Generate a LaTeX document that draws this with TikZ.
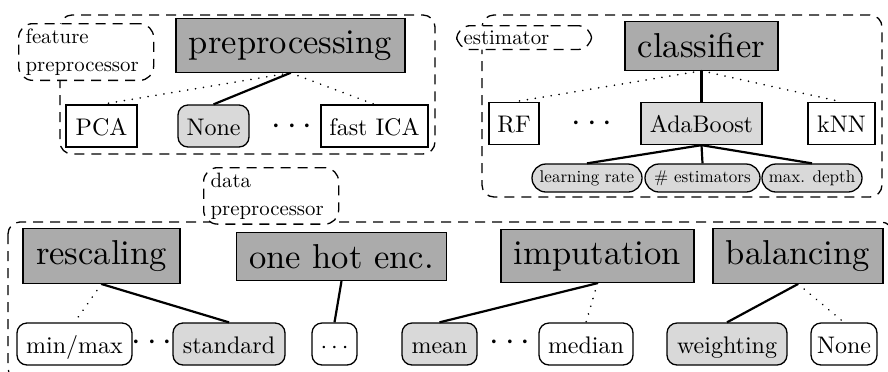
\documentclass[tikz,border=0pt]{standalone}
\usepackage{fontspec}
\setmainfont{lmroman10-regular}[Extension=.otf]
\definecolor{darkfill}{gray}{0.67}
\definecolor{lightfill}{gray}{0.85}
\begin{document}
\begin{tikzpicture}[x=0.5pt,y=-0.5pt,
  big/.style={draw, fill=darkfill, line width=0.65pt, font=\fontsize{17.28}{20}\selectfont, inner xsep=6.5pt, inner ysep=5.9pt},
  mid/.style={draw, line width=0.65pt, font=\fontsize{12}{14}\selectfont, inner xsep=2pt, inner ysep=4pt, text height=11pt, text depth=2pt},
  rnd/.style={mid, rounded corners=5pt},
  light/.style={fill=lightfill},
  pill/.style={draw, fill=lightfill, line width=0.65pt, rounded corners=7pt, font=\fontsize{8.5}{10}\selectfont, inner xsep=1pt, inner ysep=2.75pt, text height=6.5pt, text depth=2pt},
  lbl/.style={draw, dash pattern=on 5pt off 3.5pt, fill=white, rounded corners=7pt, line width=0.65pt, font=\fontsize{10.4}{14}\selectfont, text width=60.5pt, align=left, inner xsep=3.5pt, inner ysep=2.5pt, anchor=north west},
  grp/.style={draw, dash pattern=on 5pt off 3.5pt, rounded corners=6pt, line width=0.65pt},
  sel/.style={line width=1.1pt},
  alt/.style={line width=0.9pt, dash pattern=on 0.01pt off 4pt, line cap=round},
  dts/.style={font=\fontsize{18}{20}\selectfont, inner sep=0pt}
]
\useasboundingbox (0,0) rectangle (888,371);

% group frames
\draw[grp] (60,15) rectangle (435,154);
\draw[grp] (482,15) rectangle (882,197);
\draw[grp] (8,222) rectangle (893,380);

% group labels
\node[lbl] (flab) at (18,23) {feature\\preprocessor};
\node[lbl] (elab) at (456,25) {estimator};
\node[lbl] (dlab) at (203,167) {data\\preprocessor};

% feature preprocessing
\node[big] (pre) at (290.5,45.5) {preprocessing};
\node[mid, minimum width=35.5pt] (pca) at (101.5,126) {PCA};
\node[rnd, light, minimum width=35.5pt] (fnone) at (213.5,126) {None};
\node[dts] (fd) at (292,127) {$\cdots$};
\node[mid, minimum width=53.5pt] (ica) at (374.5,126) {fast ICA};
\draw[sel] (pre.south) -- (fnone.north);
\draw[alt] (pre.south) -- (pca.north);
\draw[alt] (pre.south) -- (ica.north);

% classifier
\node[big] (cls) at (701.5,46) {classifier};
\node[mid, minimum width=25pt] (rf) at (514,123.5) {RF};
\node[dts] (cd) at (592,124) {$\cdots$};
\node[mid, light, minimum width=60.5pt] (ada) at (701.5,123.5) {AdaBoost};
\node[mid, minimum width=33.5pt] (knn) at (841.5,123.5) {kNN};
\draw[sel] (cls.south) -- (ada.north);
\draw[alt] (cls.south) -- (rf.north);
\draw[alt] (cls.south) -- (knn.north);
\node[pill, minimum width=55pt] (lr) at (587,178) {learning rate};
\node[pill, minimum width=57.5pt] (ne) at (702.5,178) {\# estimators};
\node[pill, minimum width=50pt] (md) at (812,178) {max. depth};
\draw[sel] (ada.south) -- (lr.north);
\draw[sel] (ada.south) -- (ne.north);
\draw[sel] (ada.south) -- (md.north);

% data preprocessing
\node[big] (res) at (101.5,256) {rescaling};
\node[big] (ohe) at (341.5,256.5) {one hot enc.};
\node[big] (imp) at (597.5,256) {imputation};
\node[big] (bal) at (798,256) {balancing};

\node[rnd, minimum width=57.5pt] (mm) at (74.5,344) {min/max};
\node[dts] (rd) at (152,343) {$\cdots$};
\node[rnd, light, minimum width=56pt] (std) at (229,344) {standard};
\node[rnd, minimum width=22.5pt] (oo) at (334.5,344) {$\cdots$};
\node[rnd, light, minimum width=37.5pt] (mean) at (439.5,344) {mean};
\node[dts] (id) at (510,343) {$\cdots$};
\node[rnd, minimum width=47pt] (med) at (586,344) {median};
\node[rnd, light, minimum width=60pt] (wgt) at (727,344) {weighting};
\node[rnd, minimum width=33pt] (bnone) at (844,344) {None};

\draw[sel] (res.south) -- (std.north);
\draw[alt] (res.south) -- (mm.north);
\draw[sel] (ohe.south) -- (oo.north);
\draw[sel] (imp.south) -- (mean.north);
\draw[alt] (imp.south) -- (med.north);
\draw[sel] (bal.south) -- (wgt.north);
\draw[alt] (bal.south) -- (bnone.north);
\end{tikzpicture}
\end{document}
